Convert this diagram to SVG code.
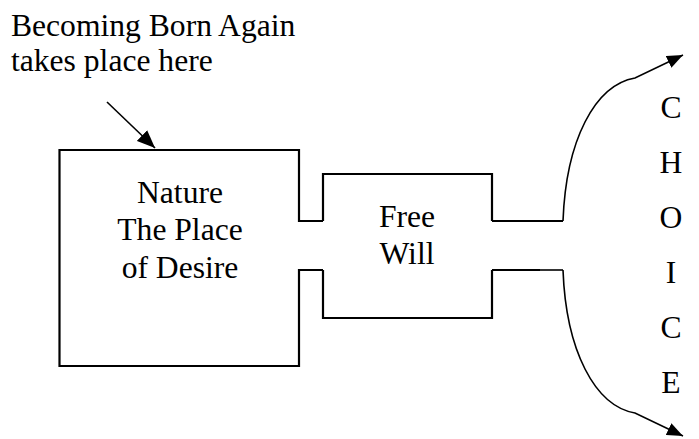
<svg xmlns="http://www.w3.org/2000/svg" width="699" height="439" viewBox="0 0 699 439">
<style>
.t{font-size:31.6px;fill:#000}
.m{text-anchor:middle}
.b{fill:none;stroke:#000;stroke-width:2.2}
.c{fill:none;stroke:#000;stroke-width:1.6}
</style>
<defs>
<marker id="ah" markerUnits="userSpaceOnUse" markerWidth="16" markerHeight="13" refX="16" refY="6.5" orient="auto">
<path d="M0,0 L16,6.5 L0,13 z" fill="#000"/>
</marker>
<marker id="ah2" markerUnits="userSpaceOnUse" markerWidth="18" markerHeight="15" refX="18" refY="7.5" orient="auto">
<path d="M0,0 L18,7.5 L0,15 z" fill="#000"/>
</marker>
</defs>
<rect width="699" height="439" fill="#fff"/>
<g id="label" font-family="Liberation Serif, Times New Roman, serif">
<text class="t" x="11" y="36">Becoming Born Again</text>
<text class="t" x="11" y="71">takes place here</text>
</g>
<g id="nature" font-family="Liberation Serif, Times New Roman, serif">
<path class="b" d="M323,221 H299 V150 H59.5 V366 H299 V270 H323"/>
<text class="t m" x="180" y="203">Nature</text>
<text class="t m" x="180" y="240">The Place</text>
<text class="t m" x="180" y="278">of Desire</text>
</g>
<g id="freewill" font-family="Liberation Serif, Times New Roman, serif">
<path class="b" d="M323,221 V174 H492 V221"/>
<path class="b" d="M323,270 V318 H492 V270"/>
<text class="t m" x="407" y="227">Free</text>
<text class="t m" x="407" y="264">Will</text>
</g>
<g id="choice" font-family="Liberation Serif, Times New Roman, serif">
<text class="t m" x="671" y="118">C</text>
<text class="t m" x="671" y="173">H</text>
<text class="t m" x="671" y="228">O</text>
<text class="t m" x="671" y="283">I</text>
<text class="t m" x="671" y="338">C</text>
<text class="t m" x="671" y="393">E</text>
</g>
<g id="connectors">
<path class="c" d="M107,102 L155,148" marker-end="url(#ah2)"/>
<path class="b" d="M492,221 H563"/>
<path class="c" d="M563,221 C566,140 595,85 635,78 L683,55" marker-end="url(#ah)"/>
<path class="b" d="M492,270 H540"/>
<path class="c" d="M540,270 H563"/>
<path class="c" d="M563,270 C566,351 595,406 635,413 L683,436" marker-end="url(#ah)"/>
</g>
</svg>
